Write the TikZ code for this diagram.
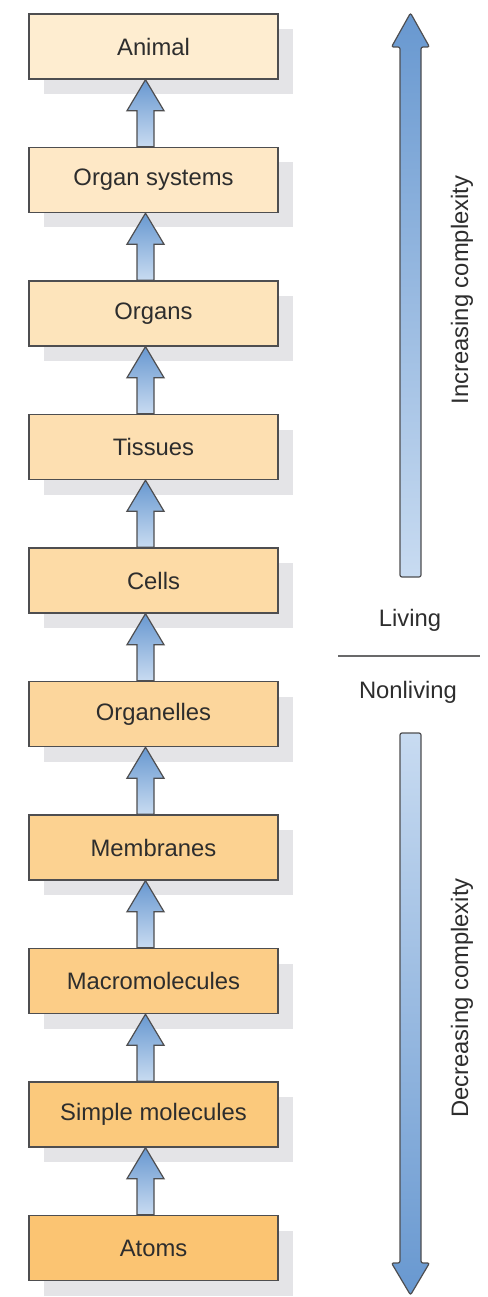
\documentclass[tikz,border=0pt]{standalone}
\usepackage{fontspec}
\setmainfont{Liberation Sans}
\usetikzlibrary{positioning,shadows}

\begin{document}
\begin{tikzpicture}[x=1pt,y=-1pt, font=\fontsize{23.8}{28}\selectfont]
    \definecolor{boxTop}{RGB}{254,237,208}
    \definecolor{boxBottom}{RGB}{251,196,114}
    \definecolor{arrowDark}{RGB}{104,152,208}
    \definecolor{arrowLight}{RGB}{200,219,241}
    \definecolor{edgeGray}{RGB}{78,78,80}
    \definecolor{shadowGray}{RGB}{228,228,231}
    \definecolor{textGray}{RGB}{45,45,45}

    \tikzset{
        level/.style={draw=edgeGray, line width=1.4pt, minimum width=249pt, minimum height=65pt,
            inner sep=0pt, text=textGray,
            drop shadow={shadow xshift=15pt, shadow yshift=-15pt, fill=shadowGray, opacity=1}},
        blockarrow/.style={draw=edgeGray, line width=1.2pt, line join=miter},
        sidelabel/.style={text=textGray}
    }

    \newcommand{\levelarrow}[2]{% from node #1 up to node #2
        \path[blockarrow, top color=arrowDark, bottom color=arrowLight]
            ([xshift=-16.5pt]#1.north) -- ([xshift=-16.5pt,yshift=-31pt]#2.south)
            -- ([xshift=-26.5pt,yshift=-31pt]#2.south) -- ([xshift=-8pt]#2.south)
            -- ([xshift=10.5pt,yshift=-31pt]#2.south) -- ([xshift=0.5pt,yshift=-31pt]#2.south)
            -- ([xshift=0.5pt]#1.north) -- cycle;
    }

    \useasboundingbox (0,0) rectangle (487,1297);

    % levels, lightest on top
    \foreach \name/\txt [count=\i from 0] in {animal/Animal, organsys/Organ systems, organs/Organs,
        tissues/Tissues, cells/Cells, organelles/Organelles, membranes/Membranes,
        macro/Macromolecules, simple/Simple molecules, atoms/Atoms} {
        \pgfmathsetmacro{\mixp}{\i*100/9}
        \node[level, fill=boxBottom!\mixp!boxTop] (\name) at (153.5,{46.5+133.5*\i}) {\txt};
    }

    \foreach \low/\high in {organsys/animal, organs/organsys, tissues/organs, cells/tissues,
        organelles/cells, membranes/organelles, macro/membranes, simple/macro, atoms/simple}
        {\levelarrow{\low}{\high}}

    % side arrows
    \path[blockarrow, rounded corners=2pt, top color=arrowDark, bottom color=arrowLight]
        (400,577) -- (400,47) -- (391.5,47) -- (410.5,13) -- (429.5,47) -- (421,47) -- (421,577) -- cycle;
    \path[blockarrow, rounded corners=2pt, top color=arrowLight, bottom color=arrowDark]
        (400,733) -- (400,1263) -- (391.5,1263) -- (410.5,1295) -- (429.5,1263) -- (421,1263) -- (421,733) -- cycle;

    \node[sidelabel, rotate=90] (increasing) at (462,290) {Increasing complexity};
    \node[sidelabel, rotate=90] (decreasing) at (462,998) {Decreasing complexity};
    \node[sidelabel] (living) at (410,620) {Living};
    \node[sidelabel] (nonliving) at (408,692) {Nonliving};

    \coordinate (divLeft) at (338,656);
    \coordinate (divRight) at (480,656);
    \draw[edgeGray!85, line width=2pt] (divLeft) -- (divRight);
\end{tikzpicture}
\end{document}
